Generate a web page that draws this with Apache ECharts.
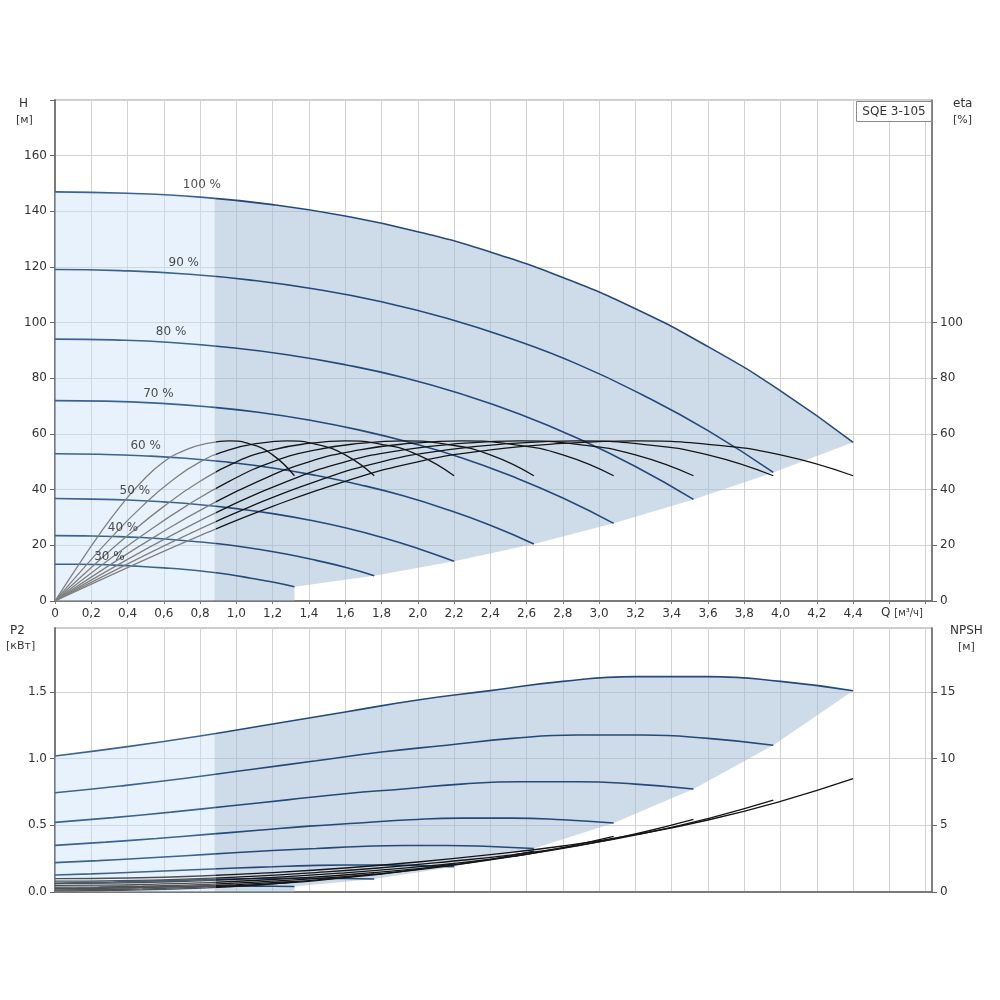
<!DOCTYPE html>
<html><head><meta charset="utf-8">
<script src="https://cdn.jsdelivr.net/npm/echarts@6/dist/echarts.min.js"></script>
<style>html,body{margin:0;padding:0;background:#fff}#c{width:1000px;height:1000px}</style>
</head><body><div id="c"></div>
<script>
// ---- flow (Q, m³/h) points for each speed curve ----
const flow100 = [0,0.4,0.8,1.2,1.6,2.0,2.4,2.8,3.2,3.6,4.0,4.4];
const flow90  = [0,0.36,0.72,1.08,1.44,1.8,2.16,2.52,2.88,3.24,3.6,3.96];
const flow80  = [0,0.32,0.64,0.96,1.28,1.6,1.92,2.24,2.56,2.88,3.2,3.52];
const flow70  = [0,0.28,0.56,0.84,1.12,1.4,1.68,1.96,2.24,2.52,2.8,3.08];
const flow60  = [0,0.24,0.48,0.72,0.96,1.2,1.44,1.68,1.92,2.16,2.4,2.64];
const flow50  = [0,0.2,0.4,0.6,0.8,1.0,1.2,1.4,1.6,1.8,2.0,2.2];
const flow40  = [0,0.16,0.32,0.48,0.64,0.8,0.96,1.12,1.28,1.44,1.6,1.76];
const flow30  = [0,0.12,0.24,0.36,0.48,0.6,0.72,0.84,0.96,1.08,1.2,1.32];

// ---- head H [м] ----
const head100 = [147,146.5,145.1,142.4,138.3,132.7,125.4,116.2,105.0,91.4,75.5,57];
const head90  = [119.1,118.7,117.5,115.3,112.0,107.5,101.6,94.1,85.1,74.0,61.2,46.2];
const head80  = [94.1,93.8,92.9,91.1,88.5,84.9,80.3,74.4,67.2,58.5,48.3,36.5];
const head70  = [72.0,71.8,71.1,69.8,67.8,65.0,61.4,56.9,51.5,44.8,37.0,27.9];
const head60  = [52.9,52.7,52.2,51.3,49.8,47.8,45.1,41.8,37.8,32.9,27.2,20.5];
const head50  = [36.8,36.6,36.3,35.6,34.6,33.2,31.4,29.1,26.3,22.9,18.9,14.3];
const head40  = [23.5,23.4,23.2,22.8,22.1,21.2,20.1,18.6,16.8,14.6,12.1,9.1];
const head30  = [13.2,13.2,13.1,12.8,12.4,11.9,11.3,10.5,9.5,8.2,6.8,5.1];

// ---- efficiency eta [%] (same values at corresponding points of every speed) ----
const etaValues = [0,12,23.5,34,43,50,54.3,56.6,57.5,56.3,52.5,45];

// ---- power P2 [кВт] ----
const power100 = [1.02,1.09,1.17,1.26,1.35,1.44,1.51,1.58,1.615,1.615,1.58,1.51];
const power90  = [0.744,0.795,0.853,0.919,0.984,1.050,1.101,1.152,1.177,1.177,1.152,1.101];
const power80  = [0.522,0.558,0.599,0.645,0.691,0.737,0.773,0.809,0.827,0.827,0.809,0.773];
const power70  = [0.350,0.374,0.401,0.432,0.463,0.494,0.518,0.542,0.554,0.554,0.542,0.518];
const power60  = [0.220,0.235,0.253,0.272,0.292,0.311,0.326,0.341,0.349,0.349,0.341,0.326];
const power50  = [0.128,0.136,0.146,0.158,0.169,0.180,0.189,0.198,0.202,0.202,0.198,0.189];
const power40  = [0.065,0.070,0.075,0.081,0.086,0.092,0.097,0.101,0.103,0.103,0.101,0.097];
const power30  = [0.028,0.029,0.032,0.034,0.036,0.039,0.041,0.043,0.044,0.044,0.043,0.041];

// ---- NPSH [м] ----
const npsh100 = [1.0,1.05,1.2,1.45,1.8,2.25,2.8,3.45,4.3,5.4,6.8,8.5];
const npsh90  = [0.81,0.85,0.97,1.17,1.46,1.82,2.27,2.79,3.48,4.37,5.51,6.89];
const npsh80  = [0.64,0.67,0.77,0.93,1.15,1.44,1.79,2.21,2.75,3.46,4.35,5.44];
const npsh70  = [0.49,0.51,0.59,0.71,0.88,1.10,1.37,1.69,2.11,2.65,3.33,4.17];
const npsh60  = [0.36,0.38,0.43,0.52,0.65,0.81,1.01,1.24,1.55,1.94,2.45,3.06];
const npsh50  = [0.25,0.26,0.30,0.36,0.45,0.56,0.70,0.86,1.08,1.35,1.70,2.13];
const npsh40  = [0.16,0.17,0.19,0.23,0.29,0.36,0.45,0.55,0.69,0.86,1.09,1.36];
const npsh30  = [0.09,0.09,0.11,0.13,0.16,0.20,0.25,0.31,0.39,0.49,0.61,0.77];

// ---- operating-range areas ----
const headAreaLightQ = [0,0.4,0.8,0.88,0.88,0];
const headAreaLightH = [147,146.5,145.1,144.7,0,0];
const headAreaQ = [0.88,1.2,1.6,2.0,2.4,2.8,3.2,3.6,4.0,4.4,3.96,3.52,3.08,2.64,2.2,1.76,1.32,1.32,0.88];
const headAreaH = [144.7,142.4,138.3,132.7,125.4,116.2,105.0,91.4,75.5,57,46.2,36.5,27.9,20.5,14.3,9.1,5.1,0,0];
const powerAreaLightQ = [0,0.4,0.8,0.88,0.88,0];
const powerAreaLightP = [1.02,1.09,1.17,1.188,0,0];
const powerAreaQ = [0.88,1.2,1.6,2.0,2.4,2.8,3.2,3.6,4.0,4.4,3.96,3.52,3.08,2.64,2.2,1.76,1.32,1.32,0.88];
const powerAreaP = [1.188,1.26,1.35,1.44,1.51,1.58,1.615,1.615,1.58,1.51,1.101,0.773,0.518,0.326,0.189,0.097,0.041,0,0];

// ---- speed labels ----
const speedLabels = ['100 %','90 %','80 %','70 %','60 %','50 %','40 %','30 %'];
const speedLabelQ = [0.81,0.71,0.64,0.57,0.50,0.44,0.375,0.30];
const speedLabelH = [149.6,121.6,96.8,74.5,55.8,39.6,26.3,15.8];

// ---- tick labels ----
const qTickLabels = ['0','0,2','0,4','0,6','0,8','1,0','1,2','1,4','1,6','1,8','2,0','2,2','2,4','2,6','2,8','3,0','3,2','3,4','3,6','3,8','4,0','4,2','4,4'];

const FONT = 'DejaVu Sans';
const flows = [flow100,flow90,flow80,flow70,flow60,flow50,flow40,flow30];
const heads = [head100,head90,head80,head70,head60,head50,head40,head30];
const powers = [power100,power90,power80,power70,power60,power50,power40,power30];
const npshs = [npsh100,npsh90,npsh80,npsh70,npsh60,npsh50,npsh40,npsh30];
const zip = (a,b) => a.map((x,i)=>[x,b[i]]);

function polySeries(qs, vs, fill, xi, yi) {
  return {
    type:'custom', coordinateSystem:'cartesian2d', xAxisIndex:xi, yAxisIndex:yi, z:1, silent:true,
    data:[[qs[0], vs[0]]],
    renderItem:(params, api) => ({
      type:'polygon',
      shape:{points: qs.map((q,i)=>api.coord([q, vs[i]]))},
      style:{fill: fill}
    })
  };
}

// colour change at the recommended-range boundary (pixel x of Q=0.88)
const splitGrad = (c1, c2) => ({type:'linear', x:0, y:0, x2:1000, y2:0, global:true,
  colorStops:[{offset:0, color:c1},{offset:0.2155, color:c1},{offset:0.2156, color:c2},{offset:1, color:c2}]});

const series = [];
series.push(polySeries(headAreaLightQ, headAreaLightH, 'rgba(200,225,247,0.42)', 0, 0));
series.push(polySeries(headAreaQ, headAreaH, 'rgba(158,184,212,0.5)', 0, 0));
series.push(polySeries(powerAreaLightQ, powerAreaLightP, 'rgba(200,225,247,0.42)', 1, 2));
series.push(polySeries(powerAreaQ, powerAreaP, 'rgba(158,184,212,0.5)', 1, 2));

const lineBase = {type:'line', symbol:'none', smooth:0.5, silent:true, z:3};
flows.forEach((f,i)=>series.push(Object.assign({}, lineBase, {
  xAxisIndex:0, yAxisIndex:0, data:zip(f, heads[i]),
  lineStyle:{color:splitGrad('#3c6390','#24497a'), width:1.6}
})));
flows.forEach((f,i)=>series.push(Object.assign({}, lineBase, {
  xAxisIndex:0, yAxisIndex:1, data:zip(f, etaValues), z:4,
  lineStyle:{color:splitGrad('#808080','#151515'), width:1.3}
})));
flows.forEach((f,i)=>series.push(Object.assign({}, lineBase, {
  xAxisIndex:1, yAxisIndex:2, data:zip(f, powers[i]),
  lineStyle:{color:splitGrad('#3c6390','#24497a'), width:1.6}
})));
flows.forEach((f,i)=>series.push(Object.assign({}, lineBase, {
  xAxisIndex:1, yAxisIndex:3, data:zip(f, npshs[i]), z:4,
  lineStyle:{color:splitGrad('#505050','#151515'), width:1.3}
})));
series.push({
  type:'scatter', xAxisIndex:0, yAxisIndex:0, symbolSize:0, silent:true, z:6,
  itemStyle:{color:'transparent'},
  data: speedLabels.map((t,i)=>[speedLabelQ[i], speedLabelH[i], t]),
  label:{show:true, position:'inside', formatter:p=>p.value[2], color:'#222', fontSize:12, fontFamily:FONT}
});

const axisLbl = {color:'#333', fontSize:12, fontFamily:FONT};
const splitL = {show:true, lineStyle:{color:'#d2d2d2', width:1}};
const xCommon = {type:'value', min:0, max:4.835, interval:0.2, splitLine:splitL};

const option = {
  animation:false,
  backgroundColor:'#fff',
  grid:[
    {left:55, top:100, right:68, height:501, show:true, borderColor:'#9a9a9a', borderWidth:1},
    {left:55, top:628, right:68, height:264, show:true, borderColor:'#9a9a9a', borderWidth:1}
  ],
  xAxis:[
    Object.assign({}, xCommon, {gridIndex:0,
      axisLine:{show:true, onZero:false, lineStyle:{color:'#7a7a7a', width:2}},
      axisTick:{show:true, length:3, lineStyle:{color:'#7a7a7a'}},
      axisLabel:Object.assign({}, axisLbl, {margin:7, showMaxLabel:false,
        formatter:v=>{const k=Math.round(v/0.2); return (v<=4.41 && k<qTickLabels.length)? qTickLabels[k] : '';}})
    }),
    Object.assign({}, xCommon, {gridIndex:1,
      axisLine:{show:true, onZero:false, lineStyle:{color:'#7a7a7a', width:2}},
      axisTick:{show:false}, axisLabel:{show:false}
    })
  ],
  yAxis:[
    {type:'value', gridIndex:0, min:0, max:180, interval:20, position:'left',
      axisLine:{show:true, lineStyle:{color:'#7a7a7a', width:2}},
      axisTick:{show:true, length:5, lineStyle:{color:'#666'}},
      axisLabel:Object.assign({}, axisLbl, {margin:8, formatter:v=>v>170?'':String(v)}),
      splitLine:splitL},
    {type:'value', gridIndex:0, min:0, max:180, interval:20, position:'right',
      axisLine:{show:true, lineStyle:{color:'#666', width:1.5}},
      axisTick:{show:true, length:5, lineStyle:{color:'#666'}, customValues:[0,20,40,60,80,100]},
      axisLabel:Object.assign({}, axisLbl, {margin:8, customValues:[0,20,40,60,80,100], formatter:v=>v>100?'':String(v)}),
      splitLine:{show:false}},
    {type:'value', gridIndex:1, min:0, max:1.98, interval:0.5, position:'left',
      axisLine:{show:true, lineStyle:{color:'#7a7a7a', width:2}},
      axisTick:{show:true, length:5, lineStyle:{color:'#666'}, customValues:[0,0.5,1,1.5]},
      axisLabel:Object.assign({}, axisLbl, {margin:8, customValues:[0,0.5,1,1.5], formatter:v=>v>1.9?'':v.toFixed(1)}),
      splitLine:splitL},
    {type:'value', gridIndex:1, min:0, max:19.8, interval:5, position:'right',
      axisLine:{show:true, lineStyle:{color:'#666', width:1.5}},
      axisTick:{show:true, length:5, lineStyle:{color:'#666'}, customValues:[0,5,10,15]},
      axisLabel:Object.assign({}, axisLbl, {margin:8, customValues:[0,5,10,15], formatter:v=>v>19?'':String(v)}),
      splitLine:{show:false}}
  ],
  graphic:[
    {type:'text', left:19, top:98, style:{text:'H', font:'12px '+FONT, fill:'#333'}},
    {type:'text', left:16, top:115, style:{text:'[м]', font:'11px '+FONT, fill:'#333'}},
    {type:'text', left:953, top:98, style:{text:'eta', font:'12px '+FONT, fill:'#333'}},
    {type:'text', left:953, top:115, style:{text:'[%]', font:'11px '+FONT, fill:'#333'}},
    {type:'text', left:10, top:625, style:{text:'P2', font:'12px '+FONT, fill:'#333'}},
    {type:'text', left:6, top:641, style:{text:'[кВт]', font:'11px '+FONT, fill:'#333'}},
    {type:'text', left:950, top:625, style:{text:'NPSH', font:'12px '+FONT, fill:'#333'}},
    {type:'text', left:958, top:642, style:{text:'[м]', font:'11px '+FONT, fill:'#333'}},
    {type:'rect', shape:{x:856.5, y:101.5, width:75, height:20}, style:{fill:'#fff', stroke:'#8a8a8a', lineWidth:1}, z:100},
    {type:'text', x:894, y:111.5, style:{text:'SQE 3-105', font:'12px '+FONT, fill:'#333', align:'center', verticalAlign:'middle'}, z:101},
    {type:'text', left:881, top:607, style:{text:'{a|Q }{b|[м³/ч]}', rich:{a:{font:'12px '+FONT, fill:'#333'}, b:{font:'10px '+FONT, fill:'#333'}}}}
  ],
  series:series
};
echarts.init(document.getElementById('c'), null, {renderer:'canvas'}).setOption(option);
</script></body></html>
